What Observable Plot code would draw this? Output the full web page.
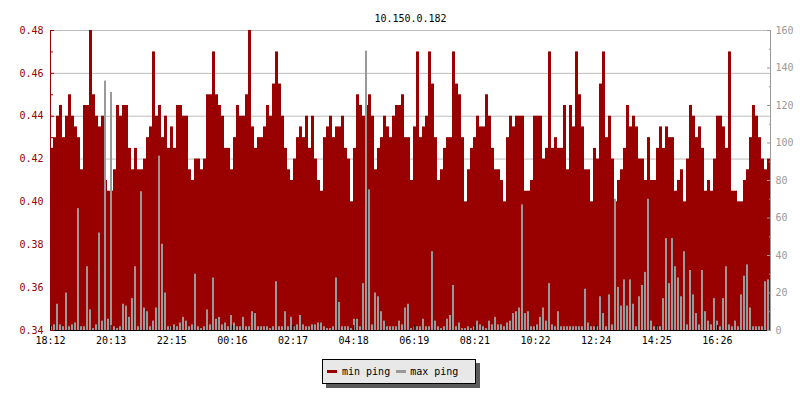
<!DOCTYPE html>
<html><head><meta charset="utf-8">
<script src="https://cdn.jsdelivr.net/npm/d3@7"></script>
<script src="https://cdn.jsdelivr.net/npm/@observablehq/plot@0.6"></script>
<style>
body{margin:0;background:#fff;}
#wrap{position:relative;width:800px;height:400px;font-family:"DejaVu Sans Mono",monospace;font-size:10px;}
#wrap svg{position:absolute;left:0;top:0;}
#legend{position:absolute;left:322px;top:359px;width:154px;height:25px;box-sizing:border-box;border:1px solid #000;background:#e8e8e8;box-shadow:4px 4px 0 #5a5a5a;display:flex;align-items:center;color:#000;}
.sw{display:inline-block;width:10px;height:3px;}
</style></head><body><div id="wrap"><div id="legend"></div></div>
<script>
const title = "10.150.0.182";
const seriesNames = ["min ping", "max ping"];
const seriesColors = ["#990000", "#999999"];
const stepMinutes = 6;
const minPing = [
0.425,0.43,0.44,0.445,0.43,0.44,0.45,0.44,0.435,0.43,
0.415,0.445,0.445,0.48,0.45,0.44,0.435,0.44,0.41,0.405,
0.405,0.415,0.445,0.44,0.445,0.445,0.425,0.415,0.425,0.415,
0.415,0.42,0.43,0.435,0.47,0.44,0.445,0.43,0.44,0.425,
0.435,0.425,0.445,0.445,0.44,0.44,0.415,0.41,0.42,0.42,
0.415,0.42,0.45,0.45,0.47,0.45,0.445,0.44,0.425,0.425,
0.415,0.43,0.445,0.44,0.44,0.45,0.48,0.435,0.425,0.43,
0.43,0.435,0.445,0.44,0.455,0.47,0.455,0.44,0.425,0.415,
0.41,0.42,0.43,0.435,0.43,0.44,0.425,0.44,0.42,0.41,
0.405,0.43,0.435,0.44,0.43,0.435,0.435,0.44,0.425,0.42,
0.40,0.425,0.45,0.445,0.44,0.445,0.45,0.44,0.415,0.425,
0.43,0.44,0.435,0.43,0.44,0.445,0.445,0.45,0.43,0.43,
0.41,0.435,0.47,0.43,0.435,0.44,0.47,0.455,0.43,0.41,
0.415,0.425,0.43,0.43,0.47,0.455,0.45,0.43,0.40,0.415,
0.425,0.43,0.44,0.435,0.435,0.45,0.44,0.425,0.415,0.415,
0.41,0.40,0.43,0.44,0.435,0.44,0.44,0.44,0.405,0.405,
0.41,0.44,0.44,0.44,0.42,0.425,0.47,0.425,0.43,0.425,
0.425,0.445,0.415,0.445,0.435,0.47,0.45,0.435,0.415,0.415,
0.40,0.425,0.42,0.455,0.47,0.43,0.44,0.42,0.40,0.41,
0.415,0.425,0.445,0.435,0.44,0.435,0.42,0.42,0.41,0.43,
0.41,0.41,0.425,0.435,0.425,0.435,0.43,0.43,0.405,0.41,
0.415,0.40,0.42,0.445,0.44,0.43,0.435,0.425,0.405,0.41,
0.405,0.42,0.44,0.44,0.435,0.425,0.47,0.405,0.405,0.40,
0.40,0.41,0.415,0.43,0.445,0.44,0.43,0.42,0.415,0.42
];
const maxPing = [
2,3,14,3,2,20,2,3,4,65,
2,2,34,11,1,3,52,5,133,6,
127,2,1,2,14,13,7,17,34,2,
74,12,10,2,5,12,93,46,20,2,
2,3,2,4,7,5,2,3,30,2,
1,2,11,3,28,6,7,3,4,2,
8,4,2,2,7,2,2,10,9,2,
2,2,2,1,2,26,2,2,10,2,
7,2,3,8,3,2,2,3,3,4,
4,2,1,1,2,28,15,2,2,2,
1,6,6,2,25,149,75,3,20,18,
10,5,2,2,2,2,5,3,12,14,
1,2,2,2,6,2,2,42,5,2,
1,2,6,8,24,2,4,1,1,2,
1,2,5,3,2,1,5,3,7,3,
3,2,4,5,9,10,12,67,9,10,
2,2,3,7,12,5,25,3,2,10,
2,2,2,2,2,2,2,2,22,4,
2,2,2,18,9,2,19,3,70,23,
13,27,13,27,14,2,18,24,31,70,
5,2,2,2,17,49,25,49,34,28,
18,42,3,32,19,9,3,32,10,5,
3,17,5,2,17,34,3,2,5,2,
19,29,35,12,2,2,2,2,26,27
];
const timeLabels = ["18:12","20:13","22:15","00:16","02:17","04:18","06:19","08:21","10:22","12:24","14:25","16:26"];
const labelStepMinutes = 121.25;
const totalMinutes = 1440;
const leftTicks = [0.34,0.36,0.38,0.40,0.42,0.44,0.46,0.48];
const leftMinorTicks = [0.35,0.37,0.39,0.41,0.43,0.45,0.47];
const rightTicks = [0,20,40,60,80,100,120,140,160];
const rightMinorTicks = [10,30,50,70,90,110,130,150];
const leftDomain = [0.34, 0.48];
const rightDomain = [0, 160];

const toLeft = v => leftDomain[0] + (v - rightDomain[0]) / (rightDomain[1] - rightDomain[0]) * (leftDomain[1] - leftDomain[0]);
const fromLeft = y => rightDomain[0] + (y - leftDomain[0]) / (leftDomain[1] - leftDomain[0]) * (rightDomain[1] - rightDomain[0]);

const rows = minPing.map((m, i) => ({t: i * stepMinutes, t2: (i + 1) * stepMinutes, min: m, max: toLeft(maxPing[i])}));
const labelTicks = timeLabels.map((_, i) => i * labelStepMinutes);

const red = seriesColors[0], gray = seriesColors[1];
const font = "DejaVu Sans Mono";

const chart = Plot.plot({
  width: 800, height: 400,
  marginLeft: 50, marginRight: 30, marginTop: 30, marginBottom: 70,
  style: {fontFamily: font, fontSize: "10px", background: "transparent", overflow: "visible"},
  x: {type: "linear", domain: [0, totalMinutes], axis: null},
  y: {domain: leftDomain, axis: null},
  marks: [
    Plot.gridY(leftTicks, {stroke: "#bdbdbd", strokeOpacity: 1}),
    Plot.rectY(rows, {x1: "t", x2: "t2", y1: leftDomain[0], y2: "min", fill: red}),
    Plot.rectY(rows, {x1: "t", x2: "t2", y1: leftDomain[0], y2: "max", fill: gray, insetRight: 1}),
    Plot.ruleX([0], {stroke: red}),
    Plot.ruleX([totalMinutes], {stroke: gray}),
    Plot.ruleY([leftDomain[0]], {stroke: "#000"}),
    Plot.axisY(leftTicks, {anchor: "left", tickSize: 0, tickPadding: 7, tickFormat: d3.format(".2f"), color: red, label: null}),
    Plot.axisY(leftTicks, {anchor: "left", tickSize: -4, tickFormat: () => "", color: red, label: null}),
    Plot.axisY(leftMinorTicks, {anchor: "left", tickSize: -3, tickFormat: () => "", color: red, label: null}),
    Plot.axisY(rightTicks.map(toLeft), {anchor: "right", tickSize: 0, tickPadding: 5, tickFormat: d => String(Math.round(fromLeft(d))), color: gray, label: null}),
    Plot.axisY(rightTicks.map(toLeft), {anchor: "right", tickSize: -4, tickFormat: () => "", color: gray, label: null}),
    Plot.axisY(rightMinorTicks.map(toLeft), {anchor: "right", tickSize: -2, tickFormat: () => "", color: gray, label: null}),
    Plot.axisX(labelTicks, {anchor: "bottom", tickSize: 0, tickPadding: 6, tickFormat: d => timeLabels[Math.round(d / labelStepMinutes)], color: "#000", label: null}),
    Plot.axisX(labelTicks, {anchor: "bottom", tickSize: -5, tickFormat: () => "", color: "#000", label: null}),
    Plot.text([title], {frameAnchor: "top", dy: -16, fill: "#000", fontSize: 10})
  ]
});
const wrap = document.getElementById("wrap");
wrap.insertBefore(chart, wrap.firstChild);

const legend = document.getElementById("legend");
seriesNames.forEach((name, i) => {
  const sw = document.createElement("span");
  sw.className = "sw";
  sw.style.background = seriesColors[i];
  sw.style.marginLeft = (i === 0 ? 4 : 6) + "px";
  sw.style.marginRight = (i === 0 ? 5 : 4) + "px";
  const tx = document.createElement("span");
  tx.textContent = name;
  legend.appendChild(sw);
  legend.appendChild(tx);
});
</script></body></html>
